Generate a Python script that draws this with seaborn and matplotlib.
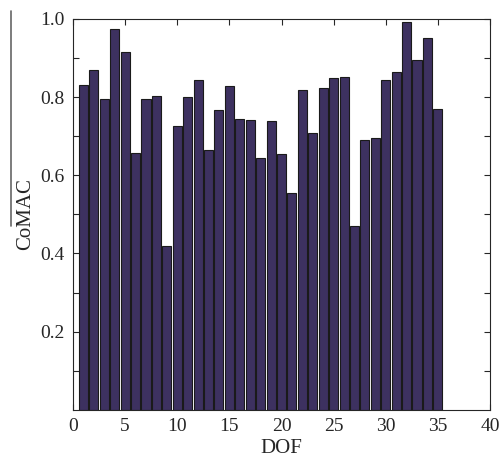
import numpy as np
import pandas as pd
import matplotlib
matplotlib.use('Agg')
import matplotlib.pyplot as plt
import seaborn as sns
from matplotlib.lines import Line2D

dof = list(range(1, 36))
comac = [0.830, 0.870, 0.795, 0.974, 0.915, 0.658, 0.794, 0.803, 0.419, 0.726,
         0.799, 0.844, 0.665, 0.768, 0.829, 0.745, 0.742, 0.644, 0.740, 0.655,
         0.554, 0.817, 0.708, 0.824, 0.849, 0.851, 0.471, 0.691, 0.696, 0.843,
         0.864, 0.992, 0.895, 0.952, 0.770]

df = pd.DataFrame({'DOF': dof, 'CoMAC': comac})

sns.set_style('ticks')
plt.rcParams['font.family'] = ['Liberation Serif', 'DejaVu Serif']

fig = plt.figure(figsize=(5.0, 4.61), dpi=100)
ax = fig.add_axes([0.146, 0.111, 0.834, 0.848])

sns.barplot(data=df, x='DOF', y='CoMAC', native_scale=True, width=0.87,
            color='#3d3160', saturation=1, edgecolor='#1a1a1a', linewidth=0.8, ax=ax)

ax.set_xlim(0, 40)
ax.set_ylim(0, 1.0)
ax.set_xticks(np.arange(0, 41, 5))
ax.set_yticks([0.2, 0.4, 0.6, 0.8, 1.0])
ax.set_yticks(np.arange(0.1, 1.0, 0.1), minor=True)
ax.set_yticklabels(['0.2', '0.4', '0.6', '0.8', '1.0'])
ax.tick_params(direction='in', top=True, right=True, labelsize=14, length=4, width=0.8, pad=6)
ax.tick_params(which='minor', direction='in', right=True, length=4, width=0.8)
for s in ax.spines.values():
    s.set_linewidth(0.8)
ax.set_xlabel('DOF', fontsize=15, labelpad=3)
ax.set_ylabel('CoMAC', fontsize=15, labelpad=4)

# the stray vertical line at the left edge of the source image
fig.add_artist(Line2D([0.022, 0.022], [0.51, 0.976], color='#666666', linewidth=1.2))

fig.savefig('out.png', dpi=100)
